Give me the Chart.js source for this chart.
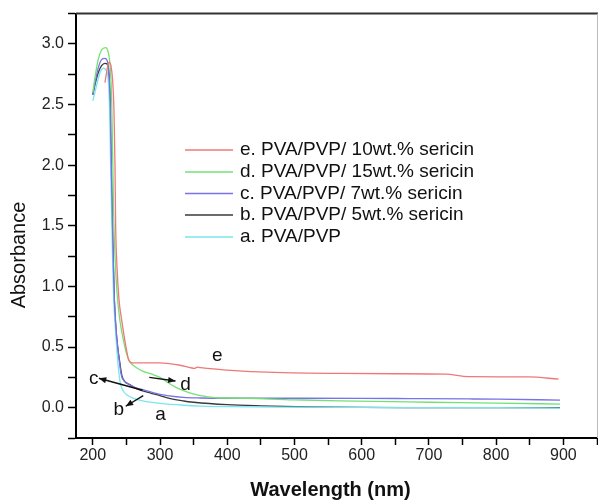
<!DOCTYPE html>
<html><head><meta charset="utf-8">
<script src="https://cdn.jsdelivr.net/npm/chart.js@4/dist/chart.umd.min.js"></script>
<style>html,body{margin:0;padding:0;background:#fff}#wrap{width:598px;height:502px}</style>
</head><body><div id="wrap"><canvas id="c" width="598" height="502"></canvas></div>
<script>
// ---- data ----
const seriesLabels = ['e. PVA/PVP/ 10wt.% sericin','d. PVA/PVP/ 15wt.% sericin','c. PVA/PVP/ 7wt.% sericin','b. PVA/PVP/ 5wt.% sericin','a. PVA/PVP'];
const seriesColors = ['#ef7878','#74e074','#7a72e6','#3a3a3a','#78e6ec'];
const seriesOrder  = [1, 2, 3, 5, 4]; // lower = drawn on top

const wlE  = [218,221,224,227,229.5,231.5,233,234,236,239,243,246,250,253,258,270,300,311,330,345,352,355,360,400,448,497,567,650,725,759,848,893];
const absE = [2.68,2.78,2.85,2.82,2.7,2.45,2.0,1.5,1.16,0.89,0.72,0.61,0.48,0.40,0.37,0.37,0.37,0.365,0.35,0.33,0.325,0.335,0.33,0.31,0.295,0.287,0.283,0.28,0.276,0.256,0.254,0.235];

const wlD  = [200,204,208,213,219,223,226,228,229.5,231,233,236,240,244,249,253,258,265,275,286,300,311,323,335,348,360,389,400,500,567,700,800,895];
const absD = [2.6,2.75,2.87,2.95,2.97,2.93,2.8,2.55,2.1,1.6,1.25,0.95,0.73,0.6,0.47,0.40,0.36,0.33,0.30,0.28,0.25,0.21,0.17,0.14,0.115,0.10,0.08,0.08,0.065,0.056,0.045,0.038,0.03];

const wlC  = [200,204,208,213,218,222,224,226,227.5,229,230.5,232,234.5,237,240,242,244,252,261,273,286,300,311,335,360,400,500,600,670,760,803,895];
const absC = [2.58,2.7,2.8,2.87,2.88,2.85,2.75,2.5,2.0,1.6,1.2,0.9,0.65,0.5,0.36,0.28,0.24,0.2,0.17,0.15,0.13,0.11,0.10,0.085,0.08,0.078,0.078,0.077,0.075,0.072,0.07,0.063];

const wlB  = [200,204,208,213,218,222,224,226,227.5,229,230.5,232,234.5,237,240,243,247,255,261,273,286,300,311,335,350,400,450,520,600,700,800,895];
const absB = [2.58,2.68,2.76,2.82,2.84,2.83,2.76,2.5,2.0,1.6,1.2,0.9,0.65,0.5,0.38,0.27,0.22,0.19,0.17,0.14,0.12,0.10,0.08,0.055,0.045,0.025,0.015,0.006,0.002,0.001,0.0,0.0];

const wlA  = [200,204,208,212,216,220,223,225,226.5,228,229.5,231,233,235.5,238,241,245,252,262,271,285,300,335,360,400,500,600,700,800,895];
const absA = [2.53,2.62,2.71,2.78,2.80,2.78,2.70,2.45,2.0,1.6,1.2,0.9,0.7,0.5,0.33,0.2,0.14,0.10,0.075,0.06,0.045,0.035,0.02,0.013,0.008,0.004,0.002,0.0,0.0,-0.003];

const seriesWl  = [wlE, wlD, wlC, wlB, wlA];
const seriesAbs = [absE, absD, absC, absB, absA];

const xTickLabels = [200,300,400,500,600,700,800,900];
const yTickLabels = ['0.0','0.5','1.0','1.5','2.0','2.5','3.0'];

const annotText = ['e','d','c','b','a'];
const annotWl   = [385, 338, 201.5, 238.5, 300.6];
const annotAbs  = [0.43, 0.185, 0.24, -0.02, -0.06];
// arrows: [fromWl, fromAbs, toWl, toAbs]
const arrowC = [274, 0.144, 209, 0.243];
const arrowD = [284, 0.25, 323, 0.22];
const arrowB = [275, 0.10, 249, 0.012];

const FONT = '"Liberation Sans", Arial, sans-serif';

const datasets = seriesLabels.map((lab, i) => ({
  label: lab,
  data: seriesWl[i].map((w, k) => ({x: w, y: seriesAbs[i][k]})),
  borderColor: seriesColors[i],
  borderWidth: 1.3,
  pointRadius: 0,
  fill: false,
  order: seriesOrder[i],
  cubicInterpolationMode: 'monotone'
}));

const extras = {
  id: 'extras',
  afterDraw(chart) {
    const ctx = chart.ctx, a = chart.chartArea;
    const xs = chart.scales.x, ys = chart.scales.y;
    ctx.save();
    // frame top/right
    ctx.strokeStyle = '#333'; ctx.lineWidth = 2;
    ctx.beginPath(); ctx.moveTo(a.left, a.top); ctx.lineTo(598, a.top); ctx.stroke();
    ctx.strokeStyle = '#bbb'; ctx.lineWidth = 1;
    ctx.beginPath(); ctx.moveTo(a.right + 0.5, a.top); ctx.lineTo(a.right + 0.5, a.bottom); ctx.stroke();
    // legend
    ctx.font = '19px ' + FONT; ctx.textBaseline = 'middle'; ctx.fillStyle = '#111';
    const rows = [150, 172, 193.5, 215, 237];
    seriesLabels.forEach((lab, i) => {
      ctx.strokeStyle = seriesColors[i]; ctx.lineWidth = 1.3;
      ctx.beginPath(); ctx.moveTo(185, rows[i]); ctx.lineTo(233, rows[i]); ctx.stroke();
      ctx.fillText(lab, 240, rows[i]);
    });
    // annotations
    ctx.font = '19px ' + FONT; ctx.textAlign = 'center';
    annotText.forEach((t, i) => ctx.fillText(t, xs.getPixelForValue(annotWl[i]), ys.getPixelForValue(annotAbs[i])));
    const arrow = (ar) => {
      const x1 = xs.getPixelForValue(ar[0]), y1 = ys.getPixelForValue(ar[1]);
      const x2 = xs.getPixelForValue(ar[2]), y2 = ys.getPixelForValue(ar[3]);
      ctx.strokeStyle = '#111'; ctx.lineWidth = 1.4;
      ctx.beginPath(); ctx.moveTo(x1, y1); ctx.lineTo(x2, y2); ctx.stroke();
      const ang = Math.atan2(y2 - y1, x2 - x1), L = 8, W = 0.4;
      ctx.fillStyle = '#111';
      ctx.beginPath(); ctx.moveTo(x2, y2);
      ctx.lineTo(x2 - L * Math.cos(ang - W), y2 - L * Math.sin(ang - W));
      ctx.lineTo(x2 - L * Math.cos(ang + W), y2 - L * Math.sin(ang + W));
      ctx.closePath(); ctx.fill();
    };
    arrow(arrowC); arrow(arrowD); arrow(arrowB);
    // axis titles
    ctx.fillStyle = '#111';
    ctx.font = 'bold 20px ' + FONT; ctx.textAlign = 'center'; ctx.textBaseline = 'middle';
    ctx.fillText('Wavelength (nm)', (a.left + a.right) / 2 - 6, 490);
    ctx.save(); ctx.translate(19, 255); ctx.rotate(-Math.PI / 2);
    ctx.font = '20px ' + FONT; ctx.fillText('Absorbance', 0, 0); ctx.restore();
    ctx.restore();
  }
};

new Chart(document.getElementById('c'), {
  type: 'line',
  data: { datasets },
  plugins: [extras],
  options: {
    responsive: false, animation: false,
    layout: { padding: { top: 13, right: 1, left: 0, bottom: 0 } },
    plugins: { legend: { display: false }, tooltip: { enabled: false } },
    scales: {
      x: {
        type: 'linear', min: 175, max: 950,
        afterFit(s) { s.height = 64; },
        border: { color: '#000', width: 2 },
        grid: { drawOnChartArea: false, drawTicks: true, tickLength: 7, color: '#000', tickWidth: 1.5 },
        ticks: { stepSize: 50, includeBounds: false, autoSkip: false, maxRotation: 0, padding: 1,
          color: '#222', font: { family: FONT, size: 16 },
          callback: (v) => xTickLabels.includes(v) ? String(v) : '' }
      },
      y: {
        type: 'linear', min: -0.25, max: 3.25,
        afterFit(s) { s.width = 76; },
        border: { color: '#000', width: 2 },
        grid: { drawOnChartArea: false, drawTicks: true, tickLength: 8, color: '#000', tickWidth: 1.5 },
        ticks: { stepSize: 0.25, autoSkip: false, padding: 4,
          color: '#222', font: { family: FONT, size: 16 },
          callback: (v) => { const s = (Math.round(v * 100) / 100).toFixed(1); return (Math.abs(v * 2 - Math.round(v * 2)) < 1e-9 && yTickLabels.includes(s)) ? s : ''; } }
      }
    }
  }
});
</script></body></html>
